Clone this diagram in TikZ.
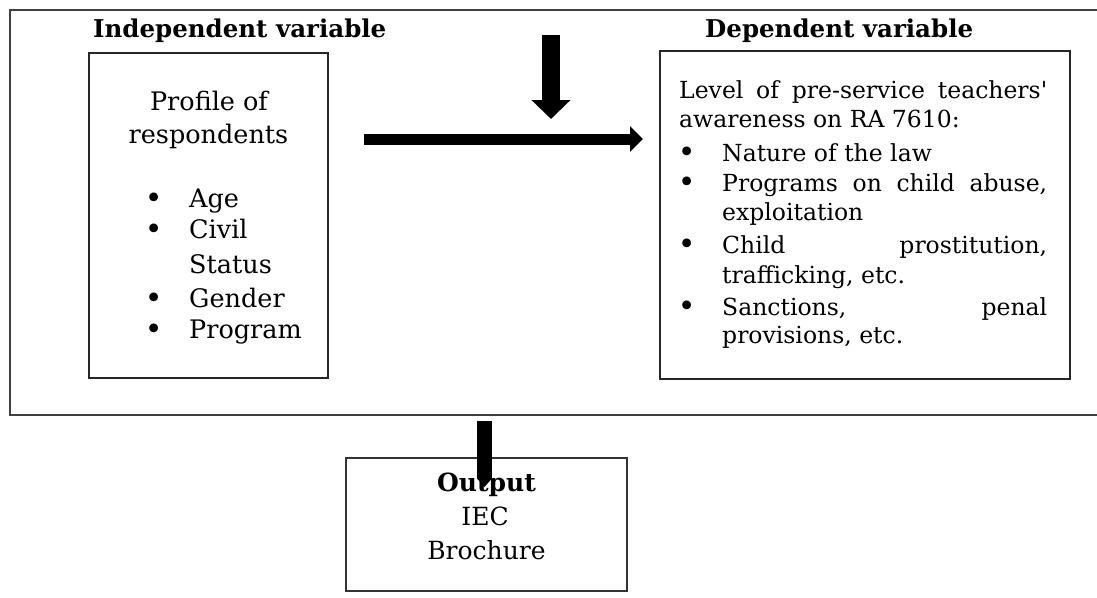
\documentclass[tikz,border=0pt]{standalone}
\usepackage{fontspec}
\setmainfont{DejaVu Serif}
\usetikzlibrary{arrows.meta}
\newcommand{\bul}[1]{\llap{\makebox[0pt][c]{\raisebox{-1.2pt}{\fontsize{30}{30}\selectfont •}}\hspace{#1}}}
\begin{document}
\begin{tikzpicture}[x=1pt,y=-1pt,
  frame/.style={draw=black!75, line width=1.3pt},
  varbox/.style={draw=black!85, line width=2.6pt, inner sep=0pt},
  outbox/.style={draw=black!80, line width=1.2pt, inner sep=0pt},
  titletxt/.style={font=\fontsize{24.5}{29}\selectfont\bfseries, anchor=base west, inner sep=0pt},
  ltxt/.style={font=\fontsize{25.5}{30}\selectfont, inner sep=0pt},
  rtxt/.style={font=\fontsize{23.5}{28}\selectfont, inner sep=0pt, anchor=base west},
  otxt/.style={font=\fontsize{25}{30}\selectfont, inner sep=0pt, anchor=base},
  blockarrow/.style={draw=black, line cap=butt}
]
\useasboundingbox (0,0) rectangle (1097,597);

% outer frame (right side runs off the picture)
\draw[frame] (1097,10) -- (10,10) -- (10,415) -- (1097,415);

% boxes
\node[varbox, minimum width=239pt, minimum height=325pt] (indbox) at (208.5,215.5) {};
\node[varbox, minimum width=410pt, minimum height=328pt] (depbox) at (865,215) {};
\node[outbox, minimum width=281pt, minimum height=133pt] (outbox) at (486.5,524.5) {};

% titles
\node[titletxt] (indtitle) at (93,37) {Independent variable};
\node[titletxt] (deptitle) at (705,37) {Dependent variable};

% left box text
\node[ltxt, anchor=base] (prof1) at (209,110) {Profile of};
\node[ltxt, anchor=base] (prof2) at (208.5,143) {respondents};
\node[ltxt, anchor=base west] (age) at (189,207) {\bul{35.5pt}Age};
\node[ltxt, anchor=base west] (civil) at (189,238) {\bul{35.5pt}Civil};
\node[ltxt, anchor=base west] (status) at (189,273) {Status};
\node[ltxt, anchor=base west] (gender) at (189,307) {\bul{35.5pt}Gender};
\node[ltxt, anchor=base west] (program) at (189,338) {\bul{35.5pt}Program};

% right box text
\node[rtxt] (r1) at (679,98) {\makebox[368pt][s]{Level of pre-service teachers\textquotesingle}};
\node[rtxt] (r2) at (679,127) {awareness on RA 7610:};
\node[rtxt] (r3) at (722,161) {\bul{35.5pt}Nature of the law};
\node[rtxt] (r4) at (722,191) {\bul{35.5pt}\makebox[325pt][s]{Programs on child abuse,}};
\node[rtxt] (r5) at (722,220) {exploitation};
\node[rtxt] (r6) at (722,253) {\bul{35.5pt}\makebox[325pt][s]{Child prostitution,}};
\node[rtxt] (r7) at (722,283) {trafficking, etc.};
\node[rtxt] (r8) at (722,315) {\bul{35.5pt}\makebox[325pt][s]{Sanctions, penal}};
\node[rtxt] (r9) at (722,343) {provisions, etc.};

% output text
\node[otxt, font=\fontsize{25}{30}\selectfont\bfseries] (outtitle) at (486.5,491) {Output};
\node[otxt] (iec) at (485,525) {IEC};
\node[otxt] (broch) at (486.5,559) {Brochure};

% arrows
\coordinate (hs) at (364,139);
\coordinate (he) at (643,139);
\coordinate (vs) at (551,35);
\coordinate (ve) at (551,119);
\coordinate (bs) at (484.5,421);
\coordinate (be) at (484.5,487);
\draw[blockarrow, line width=11pt, -{Triangle[width=25pt,length=13pt]}] (hs) -- (he);
\draw[blockarrow, line width=18pt, -{Triangle[width=38pt,length=19pt]}] (vs) -- (ve);
\draw[blockarrow, line width=15pt, -{Triangle[width=15pt,length=9pt]}] (bs) -- (be);
\end{tikzpicture}
\end{document}
